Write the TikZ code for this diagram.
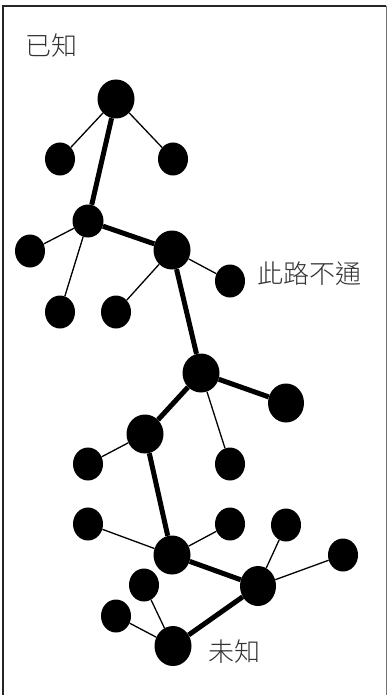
\documentclass[tikz,border=0pt]{standalone}
\usepackage{fontspec}
\newfontfamily\cjk{Noto Sans CJK TC}[UprightFont=* Light]
\usetikzlibrary{shapes.geometric}
\begin{document}
\begin{tikzpicture}[x=1pt,y=-1pt,
  sm/.style={ellipse,fill=black,inner sep=0,minimum width=30pt,minimum height=33pt},
  bg/.style={ellipse,fill=black,inner sep=0,minimum width=37pt,minimum height=39pt},
  thin/.style={line width=1.3pt},
  thick/.style={line width=5pt},
  lbl/.style={text=black!80,font=\cjk\fontsize{26}{26}\selectfont,inner sep=0}]
\useasboundingbox (0,0) rectangle (387,695);
\draw[line width=2pt,black!85] (2.5,700) -- (2.5,6) -- (386,6);
\draw[line width=1pt,black!55] (386,6) -- (386,700);
% nodes
\node[bg] (A) at (116,99) {};
\node[sm] (a1) at (60,159) {};
\node[sm] (a2) at (173,159) {};
\node[sm,minimum width=31pt] (B) at (88,221) {};
\node[sm] (b1) at (30,251) {};
\node[sm] (b2) at (60,312) {};
\node[bg] (C) at (172,250) {};
\node[sm] (c1) at (116,312) {};
\node[sm] (c2) at (230,281) {};
\node[bg] (D) at (201,373) {};
\node[bg,minimum width=36pt] (d1) at (286,403) {};
\node[sm] (d2) at (230,464) {};
\node[bg] (E) at (145,434) {};
\node[sm] (e1) at (88,464) {};
\node[bg] (F) at (172,555) {};
\node[sm] (f1) at (88,524) {};
\node[sm] (f2) at (230,524) {};
\node[bg,minimum width=36pt,minimum height=40pt] (G) at (258,586) {};
\node[sm] (g1) at (286,525) {};
\node[sm] (g2) at (343,555) {};
\node[bg,minimum height=40pt] (H) at (173,646) {};
\node[sm] (h1) at (144,585) {};
\node[sm] (h2) at (116,616) {};
% edges
\draw[thin] (A) -- (a1);
\draw[thin] (A) -- (a2);
\draw[thin] (B) -- (b1);
\draw[thin] (B) -- (b2);
\draw[thin] (C) -- (c1);
\draw[thin] (C) -- (c2);
\draw[thin] (D) -- (d2);
\draw[thin] (E) -- (e1);
\draw[thin] (F) -- (f1);
\draw[thin] (F) -- (f2);
\draw[thin] (G) -- (g1);
\draw[thin] (G) -- (g2);
\draw[thin] (H) -- (h1);
\draw[thin] (H) -- (h2);
\draw[thick] (A) -- (B);
\draw[thick] (B) -- (C);
\draw[thick] (C) -- (D);
\draw[thick] (D) -- (d1);
\draw[thick] (D) -- (E);
\draw[thick] (E) -- (F);
\draw[thick] (F) -- (G);
\draw[thick] (G) -- (H);
% labels
\node[lbl] (t1) at (51,46) {已知};
\node[lbl] (t2) at (309,274) {此路不通};
\node[lbl] (t3) at (234,652) {未知};
\end{tikzpicture}
\end{document}
